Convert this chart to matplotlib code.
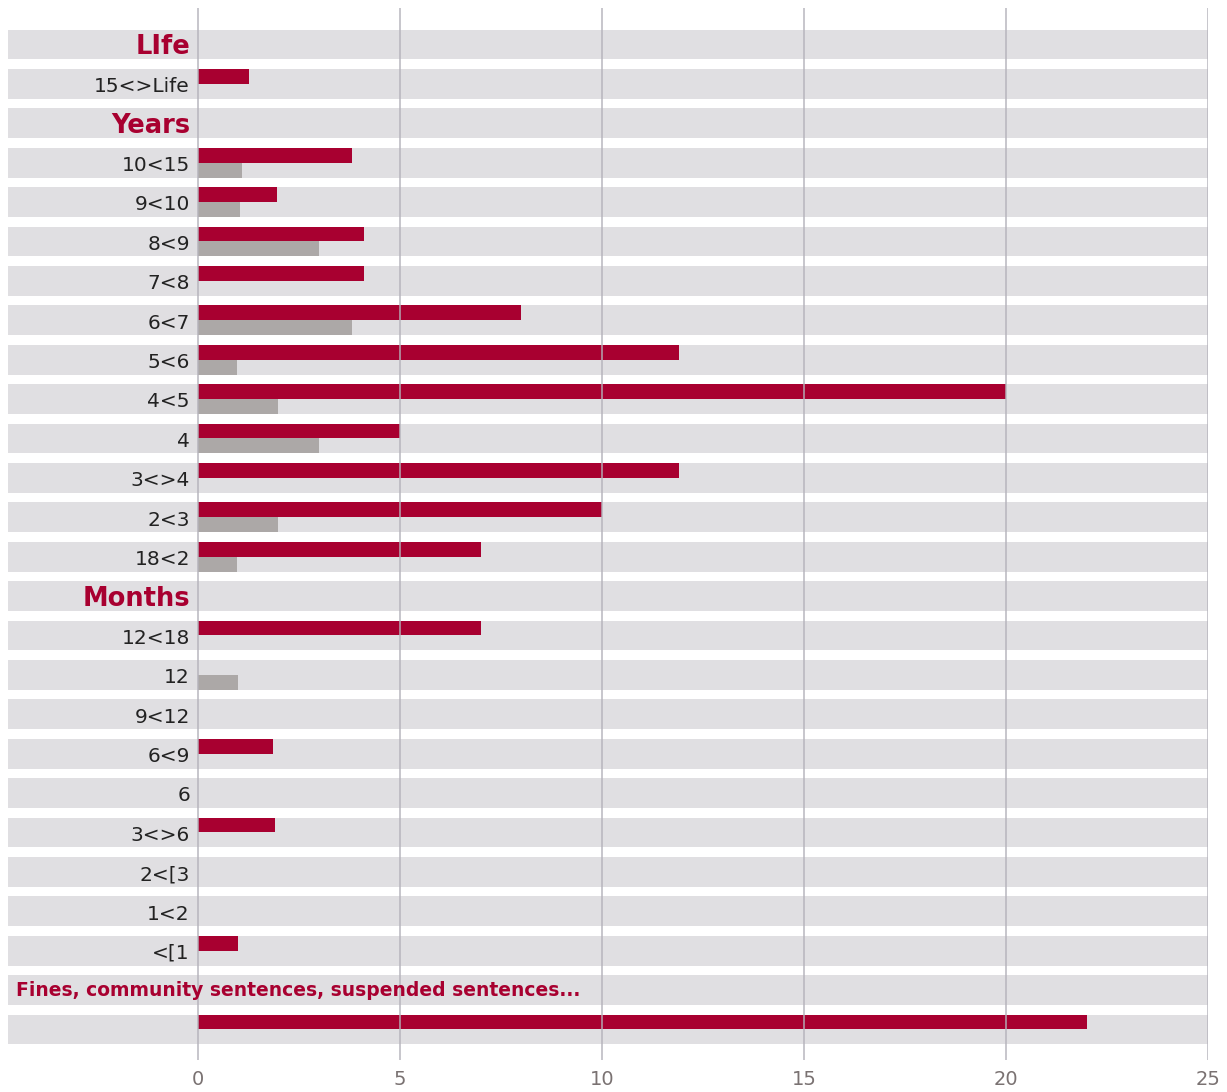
import matplotlib
matplotlib.use("Agg")
import matplotlib.pyplot as plt
from matplotlib.patches import Rectangle

labels = ["LIfe", "15<>Life", "Years", "10<15", "9<10", "8<9", "7<8", "6<7", "5<6",
          "4<5", "4", "3<>4", "2<3", "18<2", "Months", "12<18", "12", "9<12", "6<9",
          "6", "3<>6", "2<[3", "1<2", "<[1",
          "Fines, community sentences, suspended sentences...", ""]
is_header = [True, False, True] + [False] * 11 + [True] + [False] * 9 + [True, False]
red_vals = [0, 1.25, 0, 3.8, 1.95, 4.1, 4.1, 8.0, 11.9, 20.0, 5.0, 11.9, 10.0, 7.0,
            0, 7.0, 0, 0, 1.85, 0, 1.9, 0, 0, 1.0, 0, 22.0]
gray_vals = [0, 0, 0, 1.1, 1.05, 3.0, 0, 3.8, 0.97, 1.97, 3.0, 0, 1.97, 0.97,
             0, 0, 1.0, 0, 0, 0, 0, 0, 0, 0, 0, 0]
xticks = [0, 5, 10, 15, 20, 25]

RED = "#a80030"
GRAY = "#aca8a7"
BAND = "#e0dfe2"
GRID = "#b4b2ba"
TICK = "#7a7272"
TXT = "#222222"

W, H = 1227, 1092
fig = plt.figure(figsize=(W / 100, H / 100), dpi=100)
left_px, right_px, top_px, bot_px = 8, 1208, 8, 1060
ax = fig.add_axes([left_px / W, 1 - bot_px / H, (right_px - left_px) / W, (bot_px - top_px) / H])
unit = (1208 - 198) / 25.0
xmin = -(198 - left_px) / unit
pitch = 39.4
c0 = 44.5
ax.set_xlim(xmin, 25)
ax.set_ylim((bot_px - c0) / pitch, (top_px - c0) / pitch)
for s in ax.spines.values():
    s.set_visible(False)
ax.set_yticks([])
ax.set_xticks(xticks)
ax.tick_params(axis="x", length=0, pad=7, labelsize=14, labelcolor=TICK)
for lab in ax.get_xticklabels():
    lab.set_fontfamily("DejaVu Sans")

bh = 0.76
for i, lab in enumerate(labels):
    x0 = xmin
    ax.add_patch(Rectangle((x0, i - bh / 2), 25 - x0, bh, color=BAND, zorder=1, lw=0))
    if red_vals[i] > 0:
        ax.barh(i - bh / 4, red_vals[i], height=bh / 2, color=RED, zorder=2, lw=0)
    if gray_vals[i] > 0:
        ax.barh(i + bh / 4, gray_vals[i], height=bh / 2, color=GRAY, zorder=2, lw=0)
    if i == len(labels) - 2:
        ax.text(xmin + 0.2, i + 0.02, lab, ha="left", va="center", color=RED,
                fontsize=13.5, fontweight="bold", family="DejaVu Sans", zorder=4)
    elif is_header[i]:
        ax.text(-0.2, i + 0.07, lab, ha="right", va="center", color=RED,
                fontsize=18.5, fontweight="bold", family="DejaVu Sans", zorder=4)
    elif lab:
        ax.text(-0.2, i + 0.07, lab, ha="right", va="center", color=TXT,
                fontsize=14.5, family="DejaVu Sans", zorder=4)

for t in xticks:
    ax.axvline(t, color=GRID, lw=1.3, alpha=0.8, zorder=3)

fig.savefig("out.png", dpi=100)
